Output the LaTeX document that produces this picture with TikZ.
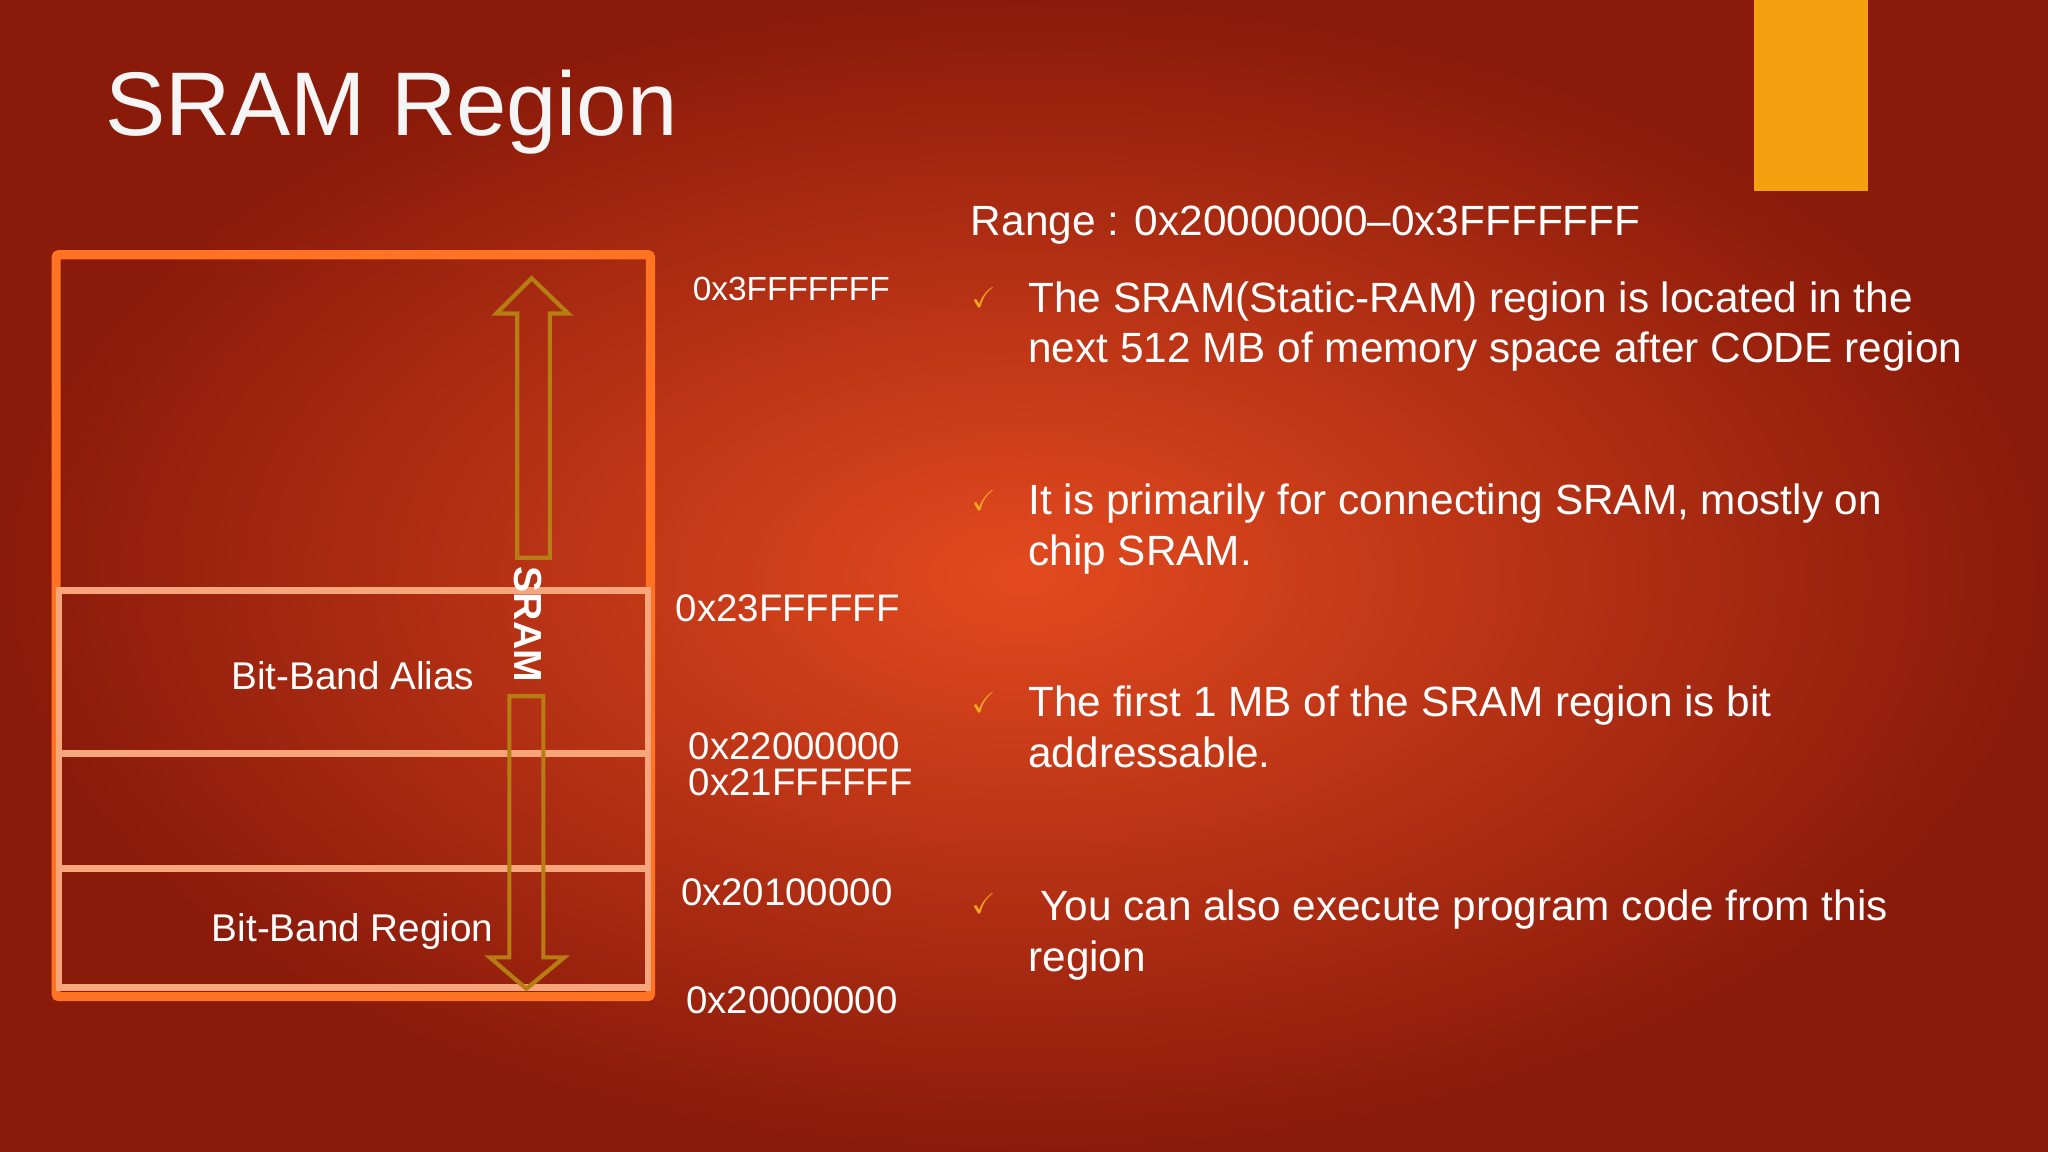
\documentclass[tikz,border=0pt]{standalone}
\usepackage{fontspec}
\setmainfont{Liberation Sans}
\usepackage{amssymb}
\definecolor{bgin}{HTML}{E34A1F}
\definecolor{bgout}{HTML}{8A1A0A}
\definecolor{boxor}{HTML}{FF7322}
\definecolor{lightln}{HTML}{F7A57A}
\definecolor{arr}{HTML}{B57D12}
\definecolor{tick}{HTML}{F5A820}
\definecolor{tab}{HTML}{F5A10F}
\begin{document}
\begin{tikzpicture}[x=0.5pt,y=-0.5pt,
  lab/.style={text=white,anchor=west,inner sep=0pt,font=\fontsize{12.8}{14}\selectfont},
  lab2/.style={lab,font=\fontsize{14.7}{16}\selectfont},
  body/.style={text=white,anchor=north west,inner sep=0pt,align=left,font=\fontsize{16.2}{19.5}\selectfont},
  chk/.style={text=tick,inner sep=0pt,font=\fontsize{11}{12}\selectfont}]
\shade[inner color=bgin,outer color=bgout] (0,0) rectangle (1568,882);
\useasboundingbox (0,0) rectangle (1568,882);
\fill[tab] (1343,0) rectangle (1430,146);
\node[text=white!92!gray,anchor=west,inner sep=0pt,font=\fontsize{34.6}{40}\selectfont] (title) at (80,86) {SRAM Region};
% memory map
\draw[boxor,line width=3.5pt,rounded corners=1pt] (43,195) rectangle (498,763);
\draw[lightln,line width=2.5pt] (45,452) rectangle (496,756);
\draw[lightln,line width=2.5pt] (45,577) -- (496,577);
\draw[lightln,line width=2.5pt] (45,665) -- (496,665);
% arrows
\draw[arr,line width=1.6pt] (407,213) -- (435,240) -- (421,240) -- (421,427) -- (396,427) -- (396,240) -- (380,240) -- cycle;
\draw[arr,line width=1.6pt] (403,757) -- (432,733) -- (416,733) -- (416,533) -- (390,533) -- (390,733) -- (375,733) -- cycle;
\node[text=white,rotate=-90,inner sep=0pt,font=\fontsize{15}{16}\selectfont\bfseries] (sram) at (404,478) {SRAM};
\node[text=white,inner sep=0pt,font=\fontsize{14.8}{16}\selectfont] (alias) at (270,517) {Bit-Band Alias};
\node[text=white,inner sep=0pt,font=\fontsize{14.8}{16}\selectfont] (region) at (270,713) {Bit-Band Region};
% addresses
\node[lab] (a1) at (530,221) {0x3FFFFFFF};
\node[lab2] (a2) at (517,466) {0x23FFFFFF};
\node[lab2] (a3) at (527,571) {0x22000000};
\node[lab2] (a4) at (527,599) {0x21FFFFFF};
\node[lab2] (a5) at (521,683) {0x20100000};
\node[lab2] (a6) at (525,766) {0x20000000};
% text
\node[body] (range) at (743,157) {Range : 0x20000000–0x3FFFFFFF};
\node[chk] (c1) at (753,228) {\checkmark};
\node[body] (t1) at (787,215) {The SRAM(Static-RAM) region is located in the\\next 512 MB of memory space after CODE region};
\node[chk] (c2) at (753,383) {\checkmark};
\node[body] (t2) at (787,370) {It is primarily for connecting SRAM, mostly on\\chip SRAM.};
\node[chk] (c3) at (753,538) {\checkmark};
\node[body] (t3) at (787,525) {The first 1 MB of the SRAM region is bit\\addressable.};
\node[chk] (c4) at (753,692) {\checkmark};
\node[body] (t4) at (787,681) {\ You can also execute program code from this\\region};
\end{tikzpicture}
\end{document}
